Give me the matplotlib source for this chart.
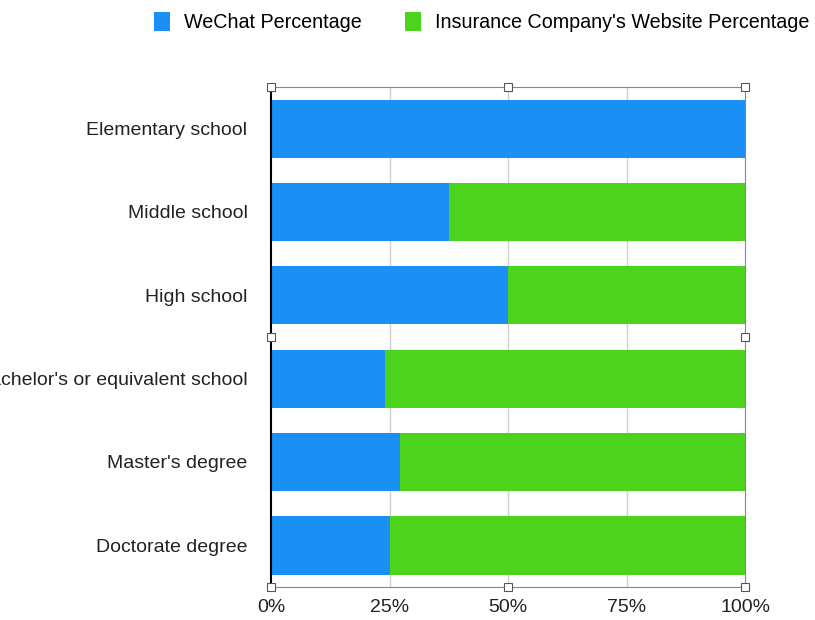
import numpy as np
import matplotlib.pyplot as plt
from matplotlib.patches import Rectangle

plt.rcParams['font.family'] = ['Liberation Sans', 'DejaVu Sans']

# data
categories = ["Elementary school", "Middle school", "High school",
              "Bachelor's or equivalent school", "Master's degree", "Doctorate degree"]
wechat = [100, 37.5, 50, 24, 27.3, 25]
website = [0, 62.5, 50, 76, 72.7, 75]
xticks = [0, 25, 50, 75, 100]
xlabels = ["0%", "25%", "50%", "75%", "100%"]

blue = "#1a8ff6"
green = "#4cd31c"

fig = plt.figure(figsize=(8.15, 6.2), dpi=100)
ax = fig.add_axes([271/815, 1-587/620, (745-271)/815, 500/620])

y = np.arange(len(categories))
ax.barh(y, wechat, height=0.70, color=blue, label="WeChat Percentage", zorder=2)
ax.barh(y, website, left=wechat, height=0.70, color=green,
        label="Insurance Company's Website Percentage", zorder=2)

ax.set_xlim(0, 100)
ax.set_ylim(len(categories) - 0.5, -0.5)
ax.set_yticks(y)
ax.set_yticklabels(categories, fontsize=14, color="#222222")
ax.set_xticks(xticks)
ax.set_xticklabels(xlabels, fontsize=14, color="#222222")
ax.tick_params(axis="both", length=0)
ax.tick_params(axis="y", pad=17)
ax.tick_params(axis="x", pad=9)
for t in xticks[1:-1]:
    ax.axvline(t, color="#cfcfcf", lw=1, zorder=1)

for side in ["top", "right", "bottom"]:
    ax.spines[side].set_color("#7d78ea")
    ax.spines[side].set_linewidth(0.8)
ax.spines["left"].set_color("black")
ax.spines["left"].set_linewidth(1.5)
ax.spines["left"].set_zorder(3)

# selection handles
for hx, hy in [(0, 0), (0.5, 0), (1, 0), (0, 0.5), (1, 0.5), (0, 1), (0.5, 1), (1, 1)]:
    w = 8 / 474
    h = 8 / 500
    ax.add_patch(Rectangle((hx - w/2, hy - h/2), w, h, transform=ax.transAxes,
                           facecolor="white", edgecolor="#555555", lw=0.8,
                           zorder=5, clip_on=False))

fig.legend(loc="center", bbox_to_anchor=(0.591, 0.964), ncol=2, frameon=False,
           fontsize=14.2, handlelength=0.8, handleheight=1.1, columnspacing=2.2,
           handletextpad=0.7)

plt.savefig("out.png", dpi=100)
plt.close()
